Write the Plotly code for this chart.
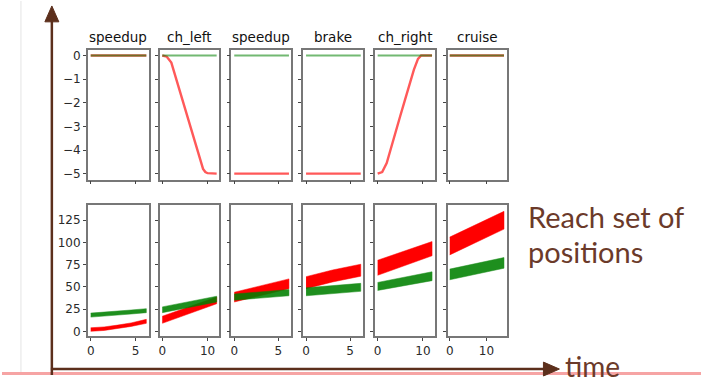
import plotly.graph_objects as go
from plotly.subplots import make_subplots

W, H = 701, 377

# ---------------- data ----------------
maneuvers = ["speedup", "ch_left", "speedup", "brake", "ch_right", "cruise"]
x_ticks = [[0, 5], [0, 10], [0, 5], [0, 5], [0, 10], [0, 10]]
x_ranges = [[-0.33, 6.45], [-0.6, 12.6], [-0.33, 6.45], [-0.33, 6.45], [-0.6, 12.6], [-0.55, 15.5]]

# lateral offset (top row)
lat_t = [
    [0, 6.2],
    [0, 1, 2, 3, 4, 5, 6, 7, 8, 8.7, 9, 9.5, 10, 12],
    [0, 6.2],
    [0, 6.2],
    [0, 1, 2, 3, 4, 5, 6, 7, 8, 8.9, 9.6, 10, 12],
    [0, 14.8],
]
lat_red = [
    [0, 0],
    [0, -0.05, -0.3, -0.95, -1.6, -2.27, -2.93, -3.6, -4.25, -4.65, -4.8, -4.93, -4.98, -5],
    [-5, -5],
    [-5, -5],
    [-5, -4.93, -4.55, -3.85, -3.2, -2.55, -1.9, -1.25, -0.6, -0.14, 0, 0, 0],
    [0, 0],
]
lat_green_t = [[0, 6.2], [0, 12], [0, 6.2], [0, 6.2], [0, 12], [0, 14.8]]
lat_green = [[0, 0], [0, 0], [0, 0], [0, 0], [0, 0], [0, 0]]

# reach set of positions (bottom row)
pos_t = [
    [0, 1.5, 3, 4.5, 6.2],
    [0, 6, 12],
    [0, 3, 6.2],
    [0, 3, 6.2],
    [0, 6, 12],
    [0, 7.4, 14.8],
]
red_lo = [[0, 1, 3, 5.5, 9], [9, 20, 31], [33, 40, 48], [48, 55.5, 62], [63, 74, 85], [86, 100.5, 115]]
red_hi = [[4, 5, 7, 9.5, 13.5], [17, 28, 38.5], [44, 51, 59], [61.5, 69, 75.5], [80, 90.5, 101], [106, 120.5, 135]]
green_lo = [[16, 17, 18.3, 19.5, 21], [21, 27, 33], [35, 37.5, 40], [40, 42.5, 45], [46, 51.5, 57], [58, 64.5, 71]]
green_hi = [[20.5, 21.5, 22.8, 24, 25.5], [27.5, 33.5, 39.5], [42, 44.5, 47], [49, 51.5, 54], [55, 61, 67], [70, 76.5, 83]]

top_yticks = [0, -1, -2, -3, -4, -5]
bot_yticks = [0, 25, 50, 75, 100, 125]

# ---------------- layout geometry (pixels) ----------------
lefts = [86, 158, 230, 302, 374, 447]
rights = [147, 218, 290, 362, 434, 506]
top_row = (49, 180)
bot_row = (206, 338)

def px(x):
    return x / W

def py(y):
    return 1 - y / H

fig = make_subplots(rows=2, cols=6)

RED = "#ff0000"
GREEN = "#008000"

for i in range(6):
    # top row: red (ego) first, green drawn over it semi-transparent
    fig.add_trace(go.Scatter(x=lat_t[i], y=lat_red[i], mode="lines",
                             line=dict(color=RED, width=2.4), opacity=0.65,
                             showlegend=False, hoverinfo="skip"), row=1, col=i + 1)
    fig.add_trace(go.Scatter(x=lat_green_t[i], y=lat_green[i], mode="lines",
                             line=dict(color=GREEN, width=2.0), opacity=0.55,
                             showlegend=False, hoverinfo="skip"), row=1, col=i + 1)
    # bottom row
    t = pos_t[i]
    fig.add_trace(go.Scatter(x=t + t[::-1], y=red_hi[i] + red_lo[i][::-1], mode="lines",
                             fill="toself", fillcolor=RED, line=dict(color=RED, width=0.5),
                             showlegend=False, hoverinfo="skip"), row=2, col=i + 1)
    fig.add_trace(go.Scatter(x=t + t[::-1], y=green_hi[i] + green_lo[i][::-1], mode="lines",
                             fill="toself", fillcolor=GREEN, line=dict(color=GREEN, width=0.5),
                             opacity=0.88, showlegend=False, hoverinfo="skip"), row=2, col=i + 1)

axis_common = dict(showline=True, mirror=True, linecolor="#777777", linewidth=1.5,
                   ticks="outside", ticklen=3, tickwidth=1, tickcolor="#444444",
                   showgrid=False, zeroline=False, tickmode="array",
                   tickfont=dict(family="DejaVu Sans", size=12, color="#2a2a2a"))

lay = {}
for i in range(6):
    for r in range(2):
        n = r * 6 + i + 1
        xa = "xaxis" if n == 1 else f"xaxis{n}"
        ya = "yaxis" if n == 1 else f"yaxis{n}"
        rows = top_row if r == 0 else bot_row
        lay[xa] = dict(axis_common, domain=[px(lefts[i]), px(rights[i])],
                       range=x_ranges[i], tickvals=x_ticks[i],
                       showticklabels=(r == 1))
        lay[ya] = dict(axis_common, domain=[py(rows[1]), py(rows[0])],
                       range=[-5.25, 0.25] if r == 0 else [-5.6, 141.7],
                       tickvals=top_yticks if r == 0 else bot_yticks,
                       showticklabels=(i == 0))
fig.update_layout(**lay)

annotations = []
for i in range(6):
    annotations.append(dict(x=px((lefts[i] + rights[i]) / 2), y=py(46), xref="paper", yref="paper",
                            text=maneuvers[i], showarrow=False, xanchor="center", yanchor="bottom",
                            font=dict(family="DejaVu Sans", size=13.5, color="#111111")))

BROWN = "#5c2f1c"
TXT = "#6b3a2a"
annotations += [
    dict(x=px(525), y=py(217), xref="paper", yref="paper", text="Reach set of", showarrow=False,
         xanchor="left", yanchor="middle", font=dict(family="Lato", size=29, color=TXT)),
    dict(x=px(525), y=py(253), xref="paper", yref="paper", text="positions", showarrow=False,
         xanchor="left", yanchor="middle", font=dict(family="Lato", size=29, color=TXT)),
    dict(x=px(563), y=py(349), xref="paper", yref="paper", text="time", showarrow=False,
         xanchor="left", yanchor="top", font=dict(family="Lato", size=28, color=TXT)),
]

shapes = [
    # faint slide guide line
    dict(type="line", xref="paper", yref="paper", x0=px(19), x1=px(19), y0=0, y1=1,
         line=dict(color="#e4e4e4", width=1)),
    # bottom pink band
    dict(type="rect", xref="paper", yref="paper", x0=0, x1=1, y0=py(377), y1=py(374),
         line=dict(width=0), fillcolor="#f6a4a4"),
    # vertical arrow
    dict(type="line", xref="paper", yref="paper", x0=px(50), x1=px(50), y0=py(377), y1=py(18),
         line=dict(color=BROWN, width=2.5)),
    dict(type="path", xref="paper", yref="paper",
         path=f"M {px(43)} {py(21)} L {px(50)} {py(5)} L {px(57)} {py(21)} Z",
         fillcolor=BROWN, line=dict(color=BROWN, width=1)),
    # horizontal arrow
    dict(type="line", xref="paper", yref="paper", x0=px(49), x1=px(546), y0=py(371), y1=py(371),
         line=dict(color=BROWN, width=2.5)),
    dict(type="path", xref="paper", yref="paper",
         path=f"M {px(543)} {py(364)} L {px(559)} {py(371)} L {px(543)} {py(378)} Z",
         fillcolor=BROWN, line=dict(color=BROWN, width=1)),
]

fig.update_layout(width=W, height=H, margin=dict(l=0, r=0, t=0, b=0),
                  paper_bgcolor="white", plot_bgcolor="white",
                  annotations=annotations, shapes=shapes, showlegend=False)

fig.write_html("out.html", config={"displayModeBar": False},
               post_script="document.body.style.margin='0px';document.body.style.overflow='hidden';")
